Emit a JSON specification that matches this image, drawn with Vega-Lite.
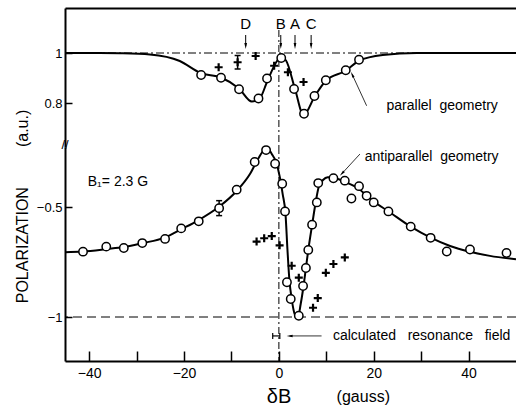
{
  "$schema": "https://vega.github.io/schema/vega-lite/v6.json",
  "padding": {"left": 13, "top": 8, "right": 0, "bottom": 0},
  "background": "white",
  "config": {
    "font": "Liberation Sans",
    "view": {"stroke": null},
    "axis": {"grid": false, "domainColor": "black", "tickColor": "black", "labelColor": "black", "titleColor": "black", "titleFontWeight": "normal", "domainWidth": 2, "tickWidth": 1.5}
  },
  "datasets": {
    "parFit": [
      {"x": -45.1, "y": 1.0}, {"x": -37.8, "y": 1.0}, {"x": -33.5, "y": 0.999}, {"x": -27.2, "y": 0.994},
      {"x": -20.9, "y": 0.968}, {"x": -16.5, "y": 0.92}, {"x": -12.2, "y": 0.902}, {"x": -8.4, "y": 0.858},
      {"x": -5.7, "y": 0.806}, {"x": -4.2, "y": 0.814}, {"x": -2.3, "y": 0.894}, {"x": -0.5, "y": 0.965},
      {"x": 0.4, "y": 0.984}, {"x": 1.5, "y": 0.97}, {"x": 3.4, "y": 0.856}, {"x": 5.2, "y": 0.752},
      {"x": 7.6, "y": 0.828}, {"x": 9.9, "y": 0.889}, {"x": 14.1, "y": 0.929}, {"x": 16.9, "y": 0.969},
      {"x": 21.9, "y": 0.992}, {"x": 29.1, "y": 1.0}, {"x": 50, "y": 1.0}
    ],
    "parCirc": [
      {"x": -16.4, "y": 0.912}, {"x": -12.2, "y": 0.901}, {"x": -8.4, "y": 0.855}, {"x": -4.3, "y": 0.818},
      {"x": -2.5, "y": 0.898}, {"x": 0.5, "y": 0.98}, {"x": 3.2, "y": 0.856}, {"x": 5.3, "y": 0.757},
      {"x": 7.5, "y": 0.828}, {"x": 9.9, "y": 0.891}, {"x": 14.1, "y": 0.931}, {"x": 16.9, "y": 0.973}
    ],
    "parCross": [
      {"x": -12.7, "y": 0.943}, {"x": -8.7, "y": 0.963}, {"x": -4.9, "y": 0.988},
      {"x": -1.0, "y": 0.949}, {"x": 1.9, "y": 0.923}, {"x": 5.2, "y": 0.884}
    ],
    "parErr": [{"x": -8.7, "lo": 0.936, "hi": 0.99}],
    "letters": [
      {"label": "D", "x": -7.0, "y": 1.116, "top": 1.072, "head": 1.028},
      {"label": "B", "x": 0.4, "y": 1.116, "top": 1.072, "head": 1.028},
      {"label": "A", "x": 3.4, "y": 1.116, "top": 1.072, "head": 1.028},
      {"label": "C", "x": 6.8, "y": 1.116, "top": 1.072, "head": 1.028}
    ],
    "apFit": [
      {"x": -45.1, "y": -0.705}, {"x": -41.4, "y": -0.702}, {"x": -36.3, "y": -0.691}, {"x": -32.7, "y": -0.682},
      {"x": -28.7, "y": -0.664}, {"x": -24.1, "y": -0.639}, {"x": -20.5, "y": -0.6}, {"x": -16.9, "y": -0.559},
      {"x": -12.7, "y": -0.5}, {"x": -8.9, "y": -0.427}, {"x": -6.1, "y": -0.35}, {"x": -4.4, "y": -0.282},
      {"x": -3.2, "y": -0.243}, {"x": -2.3, "y": -0.236}, {"x": -1.5, "y": -0.259}, {"x": -0.6, "y": -0.295},
      {"x": 0.2, "y": -0.364}, {"x": 0.8, "y": -0.441}, {"x": 1.4, "y": -0.532}, {"x": 1.8, "y": -0.691},
      {"x": 2.2, "y": -0.827}, {"x": 2.7, "y": -0.918}, {"x": 3.4, "y": -0.991}, {"x": 4.0, "y": -1.002},
      {"x": 4.6, "y": -0.941}, {"x": 5.2, "y": -0.859}, {"x": 5.7, "y": -0.777}, {"x": 6.2, "y": -0.695},
      {"x": 7.0, "y": -0.582}, {"x": 7.7, "y": -0.486}, {"x": 8.4, "y": -0.409}, {"x": 9.3, "y": -0.377},
      {"x": 10.3, "y": -0.364}, {"x": 11.4, "y": -0.366}, {"x": 13.9, "y": -0.386}, {"x": 16.9, "y": -0.418},
      {"x": 18.5, "y": -0.448}, {"x": 20.0, "y": -0.475}, {"x": 23.0, "y": -0.518}, {"x": 27.8, "y": -0.589},
      {"x": 32.0, "y": -0.639}, {"x": 36.1, "y": -0.677}, {"x": 40.3, "y": -0.703}, {"x": 44.5, "y": -0.722},
      {"x": 50, "y": -0.737}
    ],
    "apCirc": [
      {"x": -41.3, "y": -0.703}, {"x": -36.4, "y": -0.68}, {"x": -32.7, "y": -0.686}, {"x": -28.8, "y": -0.664},
      {"x": -24.0, "y": -0.645}, {"x": -20.6, "y": -0.597}, {"x": -16.9, "y": -0.565}, {"x": -12.6, "y": -0.505},
      {"x": -8.9, "y": -0.421}, {"x": -5.1, "y": -0.295}, {"x": -2.7, "y": -0.241}, {"x": -0.8, "y": -0.303},
      {"x": 0.7, "y": -0.394}, {"x": 1.3, "y": -0.52}, {"x": 1.7, "y": -0.842}, {"x": 2.5, "y": -0.918},
      {"x": 4.2, "y": -0.994}, {"x": 5.1, "y": -0.859}, {"x": 5.7, "y": -0.777}, {"x": 6.2, "y": -0.695},
      {"x": 7.0, "y": -0.58}, {"x": 8.0, "y": -0.479}, {"x": 8.3, "y": -0.391}, {"x": 11.5, "y": -0.369},
      {"x": 13.9, "y": -0.38}, {"x": 15.3, "y": -0.461}, {"x": 16.9, "y": -0.405}, {"x": 18.5, "y": -0.449},
      {"x": 20.0, "y": -0.479}, {"x": 23.1, "y": -0.52}, {"x": 27.8, "y": -0.589}, {"x": 32.0, "y": -0.64},
      {"x": 35.4, "y": -0.702}, {"x": 40.3, "y": -0.693}, {"x": 48.0, "y": -0.709}
    ],
    "apCross": [
      {"x": -4.7, "y": -0.657}, {"x": -3.1, "y": -0.642}, {"x": -1.5, "y": -0.632}, {"x": 0.15, "y": -0.674},
      {"x": 2.7, "y": -0.767}, {"x": 4.2, "y": -0.821}, {"x": 7.2, "y": -0.958}, {"x": 8.2, "y": -0.914},
      {"x": 9.9, "y": -0.799}, {"x": 11.5, "y": -0.759}, {"x": 13.9, "y": -0.729}
    ],
    "apErr": [{"x": -12.6, "lo": -0.539, "hi": -0.471}],
    "resErr": [{"y": -1.086, "lo": -1.3, "hi": 0.2}]
  },
  "vconcat": [
    {
      "width": 451,
      "height": 139,
      "layer": [
        {
          "data": {"values": [{}]},
          "mark": {"type": "rule", "color": "black", "strokeWidth": 1, "strokeDash": [8, 3, 2, 3]},
          "encoding": {"y": {"datum": 1, "type": "quantitative"}}
        },
        {
          "data": {"values": [{}]},
          "mark": {"type": "rule", "color": "black", "strokeWidth": 1, "strokeDash": [7, 3, 2, 3]},
          "encoding": {"x": {"datum": 0, "type": "quantitative"}, "y": {"datum": 1.092, "type": "quantitative"}, "y2": {"datum": 0.624}}
        },
        {
          "data": {"name": "parFit"},
          "mark": {"type": "line", "color": "black", "strokeWidth": 2, "interpolate": "monotone"},
          "encoding": {
            "x": {"field": "x", "type": "quantitative", "scale": {"domain": [-45.1, 50], "nice": false, "zero": false},
                  "axis": {"orient": "top", "labels": false, "ticks": false, "title": null, "domainWidth": 2}},
            "y": {"field": "y", "type": "quantitative", "scale": {"domain": [0.624, 1.18], "nice": false, "zero": false},
                  "axis": {"values": [0.8, 1], "format": "~g", "title": null, "tickSize": -7, "labelPadding": 10, "labelFontSize": 13}}
          }
        },
        {
          "data": {"name": "parErr"},
          "mark": {"type": "rule", "color": "black", "strokeWidth": 1.5},
          "encoding": {"x": {"field": "x", "type": "quantitative"}, "y": {"field": "lo", "type": "quantitative"}, "y2": {"field": "hi"}}
        },
        {
          "data": {"name": "parErr"},
          "mark": {"type": "point", "shape": "M-1,0H1", "filled": false, "stroke": "black", "strokeWidth": 1.5, "size": 36, "opacity": 1},
          "encoding": {"x": {"field": "x", "type": "quantitative"}, "y": {"field": "lo", "type": "quantitative"}}
        },
        {
          "data": {"name": "parErr"},
          "mark": {"type": "point", "shape": "M-1,0H1", "filled": false, "stroke": "black", "strokeWidth": 1.5, "size": 36, "opacity": 1},
          "encoding": {"x": {"field": "x", "type": "quantitative"}, "y": {"field": "hi", "type": "quantitative"}}
        },
        {
          "data": {"name": "parCirc"},
          "mark": {"type": "point", "shape": "circle", "filled": true, "fill": "white", "stroke": "black", "strokeWidth": 1.5, "size": 70, "opacity": 1},
          "encoding": {"x": {"field": "x", "type": "quantitative"}, "y": {"field": "y", "type": "quantitative"}}
        },
        {
          "data": {"name": "parCross"},
          "mark": {"type": "point", "shape": "M-1,0H1M0,-1V1", "filled": false, "stroke": "black", "strokeWidth": 2.2, "size": 64, "opacity": 1},
          "encoding": {"x": {"field": "x", "type": "quantitative"}, "y": {"field": "y", "type": "quantitative"}}
        },
        {
          "data": {"name": "letters"},
          "mark": {"type": "text", "fontSize": 15, "color": "black", "align": "center", "baseline": "middle"},
          "encoding": {"x": {"field": "x", "type": "quantitative"}, "y": {"field": "y", "type": "quantitative"}, "text": {"field": "label"}}
        },
        {
          "data": {"name": "letters"},
          "mark": {"type": "rule", "color": "black", "strokeWidth": 1},
          "encoding": {"x": {"field": "x", "type": "quantitative"}, "y": {"field": "top", "type": "quantitative"}, "y2": {"field": "head"}}
        },
        {
          "data": {"name": "letters"},
          "mark": {"type": "point", "shape": "M-0.45,-1L0,1L0.45,-1Z", "filled": true, "color": "black", "size": 36, "opacity": 1},
          "encoding": {"x": {"field": "x", "type": "quantitative"}, "y": {"field": "head", "type": "quantitative"}}
        },
        {
          "data": {"values": [{"x": 22.7, "y": 0.788, "label": "parallel\u00a0\u00a0geometry"}]},
          "mark": {"type": "text", "fontSize": 14, "color": "black", "align": "left", "baseline": "middle"},
          "encoding": {"x": {"field": "x", "type": "quantitative"}, "y": {"field": "y", "type": "quantitative"}, "text": {"field": "label"}}
        },
        {
          "data": {"values": [{"x": 18.5, "y": 0.789, "x2": 15.46, "y2": 0.914}]},
          "mark": {"type": "rule", "color": "black", "strokeWidth": 0.8},
          "encoding": {"x": {"field": "x", "type": "quantitative"}, "y": {"field": "y", "type": "quantitative"}, "x2": {"field": "x2"}, "y2": {"field": "y2"}}
        },
        {
          "data": {"values": [{"x": 15.46, "y": 0.914}]},
          "mark": {"type": "point", "shape": "M-0.4,-1L0,1L0.4,-1Z", "filled": true, "color": "black", "size": 36, "opacity": 1, "angle": 155},
          "encoding": {"x": {"field": "x", "type": "quantitative"}, "y": {"field": "y", "type": "quantitative"}}
        },
        {
          "data": {"values": [{"x": -45.1, "y": 0.632, "label": "//"}]},
          "mark": {"type": "text", "fontSize": 13, "color": "black", "align": "center", "baseline": "middle"},
          "encoding": {"x": {"field": "x", "type": "quantitative"}, "y": {"field": "y", "type": "quantitative"}, "text": {"field": "label"}}
        }
      ]
    },
    {
      "width": 451,
      "height": 214,
      "layer": [
        {
          "data": {"values": [{}]},
          "mark": {"type": "rule", "color": "black", "strokeWidth": 1, "strokeDash": [9, 5]},
          "encoding": {"y": {"datum": -1, "type": "quantitative"}}
        },
        {
          "data": {"values": [{}]},
          "mark": {"type": "rule", "color": "black", "strokeWidth": 1, "strokeDash": [7, 3, 2, 3]},
          "encoding": {"x": {"datum": 0, "type": "quantitative"}}
        },
        {
          "data": {"name": "apFit"},
          "mark": {"type": "line", "color": "black", "strokeWidth": 2, "interpolate": "monotone"},
          "encoding": {
            "x": {"field": "x", "type": "quantitative", "scale": {"domain": [-45.1, 50], "nice": false, "zero": false},
                  "axis": {"values": [-40, -30, -20, -10, 0, 10, 20, 30, 40], "labelExpr": "datum.value % 20 === 0 ? datum.label : ''",
                           "tickSize": -10, "labelPadding": 15, "labelFontSize": 14,
                           "title": "δB", "titleFontSize": 20, "titleX": 213.5, "titleY": 41, "titleAlign": "center", "titleBaseline": "alphabetic"}},
            "y": {"field": "y", "type": "quantitative", "scale": {"domain": [-1.2, -0.227], "nice": false, "zero": false},
                  "axis": {"values": [-1, -0.5], "format": "~g", "tickSize": -7, "labelPadding": 10, "labelFontSize": 13,
                           "title": "POLARIZATION\u00a0\u00a0\u00a0\u00a0\u00a0\u00a0\u00a0\u00a0\u00a0(a.u.)", "titleFontSize": 16, "titleX": -43, "titleY": 59, "titleAngle": -90, "titleAlign": "center", "titleBaseline": "middle"}}
          }
        },
        {
          "data": {"name": "apErr"},
          "mark": {"type": "rule", "color": "black", "strokeWidth": 1.5},
          "encoding": {"x": {"field": "x", "type": "quantitative"}, "y": {"field": "lo", "type": "quantitative"}, "y2": {"field": "hi"}}
        },
        {
          "data": {"name": "apErr"},
          "mark": {"type": "point", "shape": "M-1,0H1", "filled": false, "stroke": "black", "strokeWidth": 1.5, "size": 36, "opacity": 1},
          "encoding": {"x": {"field": "x", "type": "quantitative"}, "y": {"field": "lo", "type": "quantitative"}}
        },
        {
          "data": {"name": "apErr"},
          "mark": {"type": "point", "shape": "M-1,0H1", "filled": false, "stroke": "black", "strokeWidth": 1.5, "size": 36, "opacity": 1},
          "encoding": {"x": {"field": "x", "type": "quantitative"}, "y": {"field": "hi", "type": "quantitative"}}
        },
        {
          "data": {"name": "apCirc"},
          "mark": {"type": "point", "shape": "circle", "filled": true, "fill": "white", "stroke": "black", "strokeWidth": 1.5, "size": 70, "opacity": 1},
          "encoding": {"x": {"field": "x", "type": "quantitative"}, "y": {"field": "y", "type": "quantitative"}}
        },
        {
          "data": {"name": "apCross"},
          "mark": {"type": "point", "shape": "M-1,0H1M0,-1V1", "filled": false, "stroke": "black", "strokeWidth": 2.2, "size": 64, "opacity": 1},
          "encoding": {"x": {"field": "x", "type": "quantitative"}, "y": {"field": "y", "type": "quantitative"}}
        },
        {
          "data": {"name": "resErr"},
          "mark": {"type": "rule", "color": "black", "strokeWidth": 1.2},
          "encoding": {"y": {"field": "y", "type": "quantitative"}, "x": {"field": "lo", "type": "quantitative"}, "x2": {"field": "hi"}}
        },
        {
          "data": {"name": "resErr"},
          "mark": {"type": "point", "shape": "M0,-1V1", "filled": false, "stroke": "black", "strokeWidth": 1.2, "size": 36, "opacity": 1},
          "encoding": {"y": {"field": "y", "type": "quantitative"}, "x": {"field": "lo", "type": "quantitative"}}
        },
        {
          "data": {"name": "resErr"},
          "mark": {"type": "point", "shape": "M0,-1V1", "filled": false, "stroke": "black", "strokeWidth": 1.2, "size": 36, "opacity": 1},
          "encoding": {"y": {"field": "y", "type": "quantitative"}, "x": {"field": "hi", "type": "quantitative"}}
        },
        {
          "data": {"values": [{"x": 9.0, "y": -1.086, "x2": 2.26, "y2": -1.086}]},
          "mark": {"type": "rule", "color": "black", "strokeWidth": 0.8},
          "encoding": {"x": {"field": "x", "type": "quantitative"}, "y": {"field": "y", "type": "quantitative"}, "x2": {"field": "x2"}, "y2": {"field": "y2"}}
        },
        {
          "data": {"values": [{"x": 2.26, "y": -1.086}]},
          "mark": {"type": "point", "shape": "M-0.4,-1L0,1L0.4,-1Z", "filled": true, "color": "black", "size": 36, "opacity": 1, "angle": 90},
          "encoding": {"x": {"field": "x", "type": "quantitative"}, "y": {"field": "y", "type": "quantitative"}}
        },
        {
          "data": {"values": [{"x": 17.09, "y": -0.259, "x2": 13.29, "y2": -0.348}]},
          "mark": {"type": "rule", "color": "black", "strokeWidth": 0.8},
          "encoding": {"x": {"field": "x", "type": "quantitative"}, "y": {"field": "y", "type": "quantitative"}, "x2": {"field": "x2"}, "y2": {"field": "y2"}}
        },
        {
          "data": {"values": [{"x": 13.29, "y": -0.348}]},
          "mark": {"type": "point", "shape": "M-0.4,-1L0,1L0.4,-1Z", "filled": true, "color": "black", "size": 36, "opacity": 1, "angle": 43},
          "encoding": {"x": {"field": "x", "type": "quantitative"}, "y": {"field": "y", "type": "quantitative"}}
        },
        {
          "data": {"values": [
            {"x": 18.1, "y": -0.271, "label": "antiparallel\u00a0\u00a0geometry"},
            {"x": 11.4, "y": -1.085, "label": "calculated\u00a0\u00a0\u00a0resonance\u00a0\u00a0\u00a0field"},
            {"x": -40.3, "y": -0.386, "label": "B₁= 2.3 G"}
          ]},
          "mark": {"type": "text", "fontSize": 14, "color": "black", "align": "left", "baseline": "middle"},
          "encoding": {"x": {"field": "x", "type": "quantitative"}, "y": {"field": "y", "type": "quantitative"}, "text": {"field": "label"}}
        },
        {
          "data": {"values": [{"x": 17.8, "y": -1.364, "label": "(gauss)"}]},
          "mark": {"type": "text", "fontSize": 16, "color": "black", "align": "center", "baseline": "middle"},
          "encoding": {"x": {"field": "x", "type": "quantitative"}, "y": {"field": "y", "type": "quantitative"}, "text": {"field": "label"}}
        }
      ]
    }
  ],
  "spacing": 0,
  "bounds": "flush"
}
